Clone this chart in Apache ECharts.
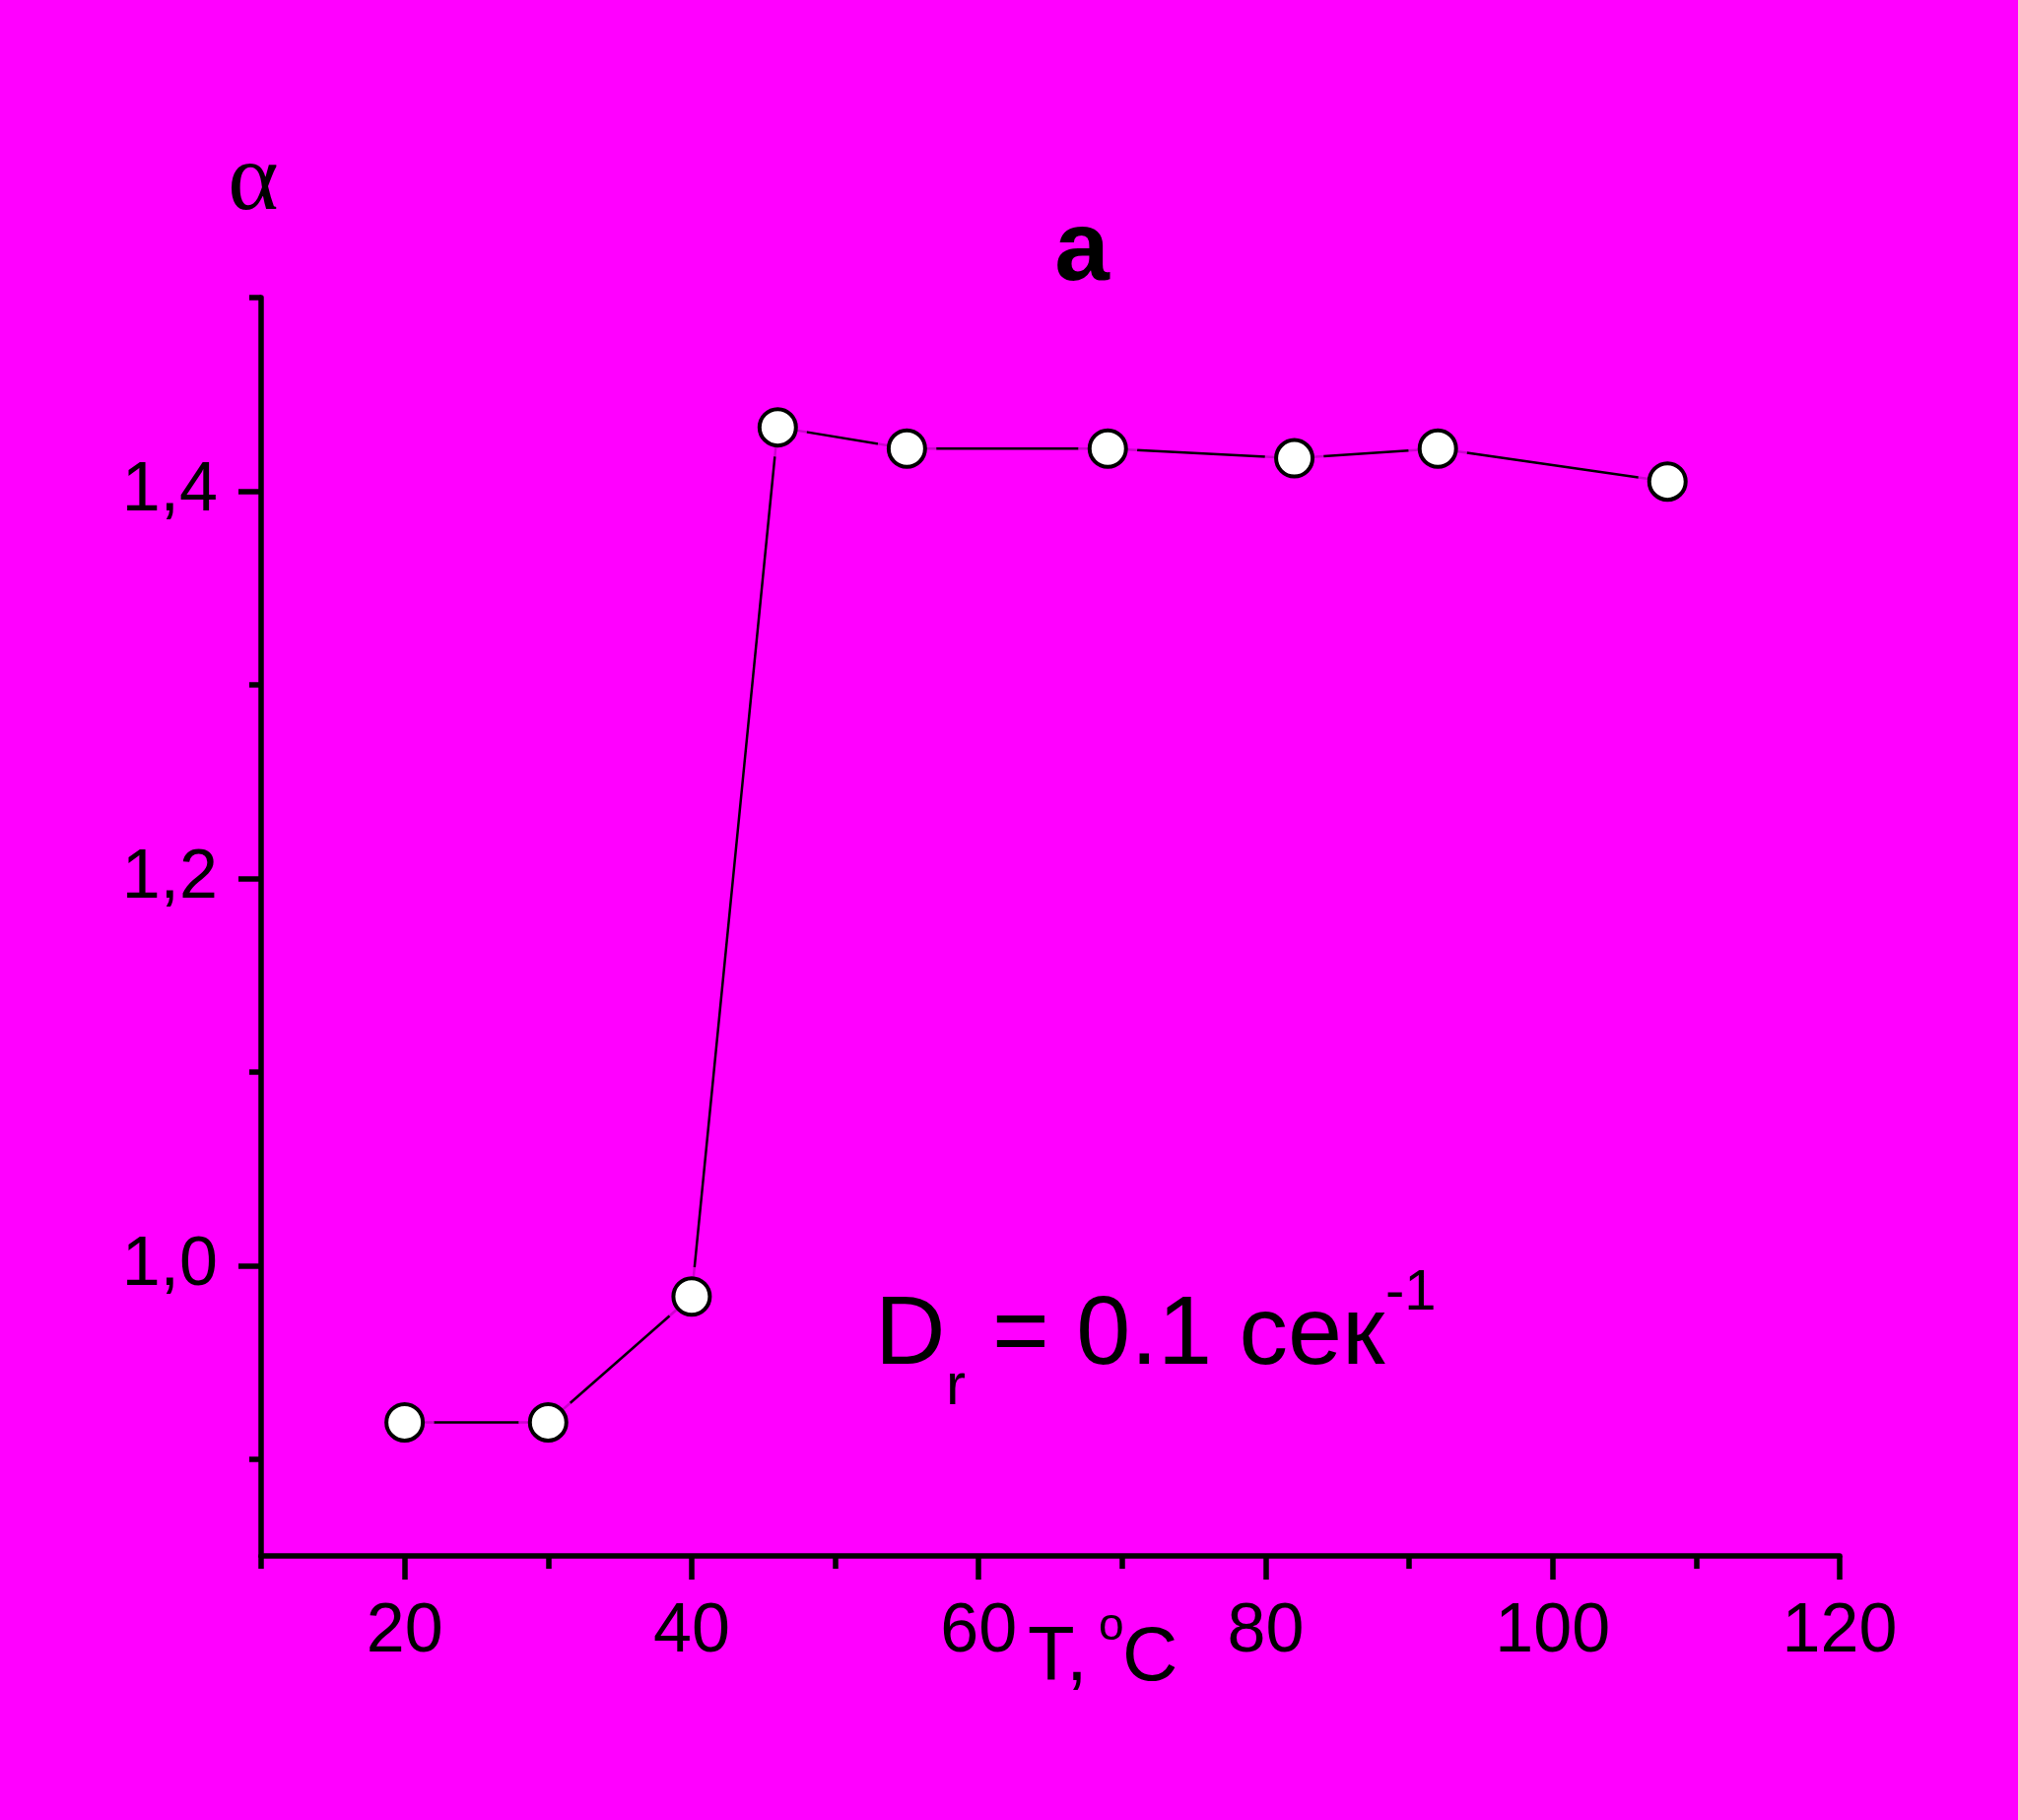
<!DOCTYPE html>
<html>
<head>
<meta charset="utf-8">
<script src="https://cdn.jsdelivr.net/npm/echarts@6/dist/echarts.min.js"></script>
<style>
html,body{margin:0;padding:0;background:#ff00ff;}
#chart{width:2048px;height:1847px;}
</style>
</head>
<body>
<div id="chart"></div>
<script>
// Data
const temps = [20, 30, 40, 46, 55, 69, 82, 92, 108];
const alphas = [0.919, 0.919, 0.984, 1.433, 1.422, 1.422, 1.417, 1.422, 1.405];
const xMajorTicks = [20, 40, 60, 80, 100, 120];
const xMinorTicks = [10, 30, 50, 70, 90, 110];
const yMajorTicks = [1.0, 1.2, 1.4];
const yMinorTicks = [0.9, 1.1, 1.3, 1.5];

const FONT = '"Liberation Sans", Arial, Helvetica, sans-serif';
const points = temps.map((t, i) => [t, alphas[i]]);

const chart = echarts.init(document.getElementById('chart'), null, {renderer: 'canvas'});

const AXW = 5.5;
const baseAxis = {
  type: 'value',
  splitLine: {show: false},
  axisLine: {show: true, onZero: false, lineStyle: {color: '#000', width: AXW}},
};

chart.setOption({
  animation: false,
  backgroundColor: '#ff00ff',
  grid: {left: 265, top: 302, right: 181, bottom: 268, containLabel: false},
  xAxis: [
    Object.assign({}, baseAxis, {
      min: 10, max: 120, position: 'bottom',
      axisTick: {show: true, inside: false, length: 24, customValues: xMajorTicks, lineStyle: {color: '#000', width: AXW}},
      axisLabel: {show: true, customValues: xMajorTicks, margin: 43, color: '#000', fontSize: 70, fontFamily: FONT}
    }),
    Object.assign({}, baseAxis, {
      min: 10, max: 120, position: 'bottom',
      axisLine: {show: false},
      axisTick: {show: true, inside: false, length: 13, customValues: xMinorTicks, lineStyle: {color: '#000', width: AXW}},
      axisLabel: {show: false}
    })
  ],
  yAxis: [
    Object.assign({}, baseAxis, {
      min: 0.85, max: 1.5, position: 'left',
      axisTick: {show: true, inside: false, length: 23, customValues: yMajorTicks, lineStyle: {color: '#000', width: AXW}},
      axisLabel: {show: true, customValues: yMajorTicks, margin: 44, color: '#000', fontSize: 70, fontFamily: FONT,
        padding: [0, 0, 22, 0],
        formatter: v => Number(v).toFixed(1).replace('.', ',')}
    }),
    Object.assign({}, baseAxis, {
      min: 0.85, max: 1.5, position: 'left',
      axisLine: {show: false},
      axisTick: {show: true, inside: false, length: 12, customValues: yMinorTicks, lineStyle: {color: '#000', width: AXW}},
      axisLabel: {show: false}
    })
  ],
  series: [
    {
      type: 'line', data: points, symbol: 'none', z: 2,
      lineStyle: {color: '#000', width: 2.5}, silent: true
    },
    {
      type: 'scatter', data: points, symbol: 'circle', symbolSize: 60, z: 3,
      itemStyle: {color: '#ff00ff', borderWidth: 0}, silent: true
    },
    {
      type: 'scatter', data: points, symbol: 'circle', symbolSize: 37, z: 4,
      itemStyle: {color: '#ffffff', borderColor: '#000', borderWidth: 4, opacity: 1}, silent: true
    }
  ],
  graphic: [
    {type: 'text', x: 257, y: 186, style: {text: 'α', font: '98px "Liberation Serif", "DejaVu Serif", serif', fill: '#000', align: 'center', verticalAlign: 'middle'}},
    {type: 'text', x: 1098, y: 256, style: {text: 'a', font: 'bold 100px ' + FONT, fill: '#000', align: 'center', verticalAlign: 'middle'}},
    {type: 'text', x: 1043, y: 1683, style: {text: 'T,', font: '78px ' + FONT, fill: '#000', align: 'left', verticalAlign: 'middle'}},
    {type: 'text', x: 1115, y: 1651, style: {text: 'o', font: '46px ' + FONT, fill: '#000', align: 'left', verticalAlign: 'middle'}},
    {type: 'text', x: 1139, y: 1683, style: {text: 'C', font: '78px ' + FONT, fill: '#000', align: 'left', verticalAlign: 'middle'}},
    {type: 'text', x: 888, y: 1357, style: {text: 'D', font: '99px ' + FONT, fill: '#000', align: 'left', verticalAlign: 'middle'}},
    {type: 'text', x: 960, y: 1408, style: {text: 'r', font: '60px ' + FONT, fill: '#000', align: 'left', verticalAlign: 'middle'}},
    {type: 'text', x: 1007, y: 1357, style: {text: '= 0.1 сек', font: '99px ' + FONT, fill: '#000', align: 'left', verticalAlign: 'middle'}},
    {type: 'text', x: 1406, y: 1313, style: {text: '-1', font: '58px ' + FONT, fill: '#000', align: 'left', verticalAlign: 'middle'}}
  ]
});
</script>
</body>
</html>
